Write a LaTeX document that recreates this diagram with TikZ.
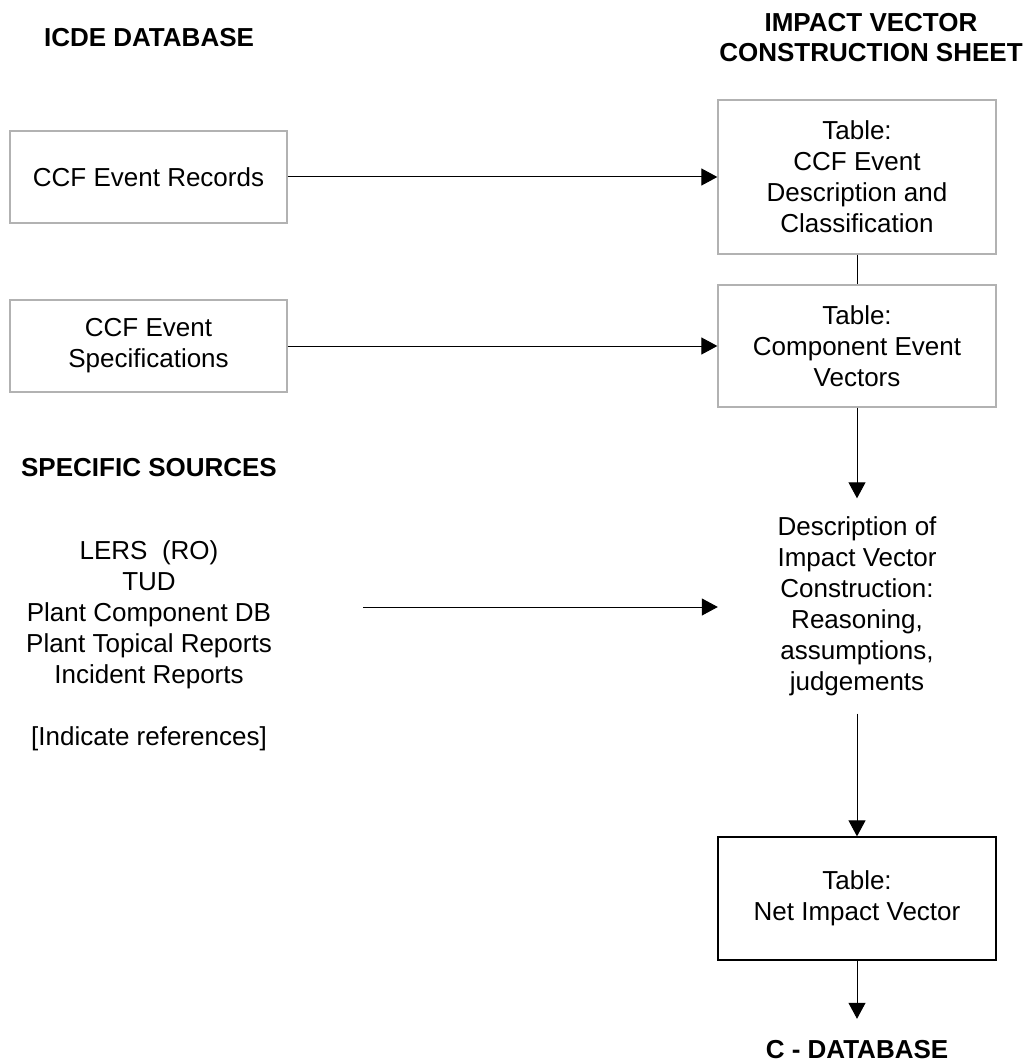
\documentclass[tikz,border=0pt]{standalone}
\usepackage{fontspec}
\setmainfont{Liberation Sans}
\usetikzlibrary{arrows.meta}
\begin{document}
\begin{tikzpicture}[x=1pt,y=-1pt,
  txt/.style={align=center,inner sep=0pt,font=\fontsize{26}{31}\selectfont},
  head/.style={align=center,inner sep=0pt,font=\fontsize{26}{30}\selectfont\bfseries},
  graybox/.style={txt,draw=black!30,line width=1.3pt,minimum width=277pt},
  blackbox/.style={txt,draw=black,line width=1.3pt,minimum width=278pt},
  arr/.style={draw=black,line width=1pt,-{Triangle[length=16pt,width=17pt]}},
  plain/.style={draw=black,line width=1pt}]
\useasboundingbox[fill=white] (0,0) rectangle (1026,1064);

% headers
\node[head] (icde) at (149,38) {ICDE DATABASE};
\node[head] (ivcs) at (871,38) {IMPACT VECTOR\\CONSTRUCTION SHEET};
\node[head] (spec) at (149,468) {SPECIFIC SOURCES};

% left boxes
\node[graybox,minimum height=92pt] (rec) at (148.5,177) {CCF Event Records};
\node[graybox,minimum height=92pt] (evspec) at (148.5,346) {CCF Event\\Specifications};

% left list
\node[txt] (src) at (149,646) {LERS~~(RO)\\TUD\\Plant Component DB\\Plant Topical Reports\\Incident Reports\\[31pt]{[}Indicate references{]}};
\coordinate (srcout) at (363,607);

% right column
\node[graybox,minimum width=278pt,minimum height=154pt] (tabA) at (857,177) {Table:\\CCF Event\\Description and\\Classification};
\node[graybox,minimum width=278pt,minimum height=122pt] (tabB) at (857,346) {Table:\\Component Event\\Vectors};
\node[txt,minimum width=278pt,minimum height=215pt] (desc) at (857,606) {Description of\\Impact Vector\\Construction:\\Reasoning,\\assumptions,\\judgements};
\node[blackbox,minimum height=123pt] (tabC) at (857,898.5) {Table:\\Net Impact Vector};
\node[head,minimum height=62pt] (cdb) at (857,1050) {C - DATABASE};

% connectors
\draw[arr] (rec.east) -- (rec.east -| tabA.west);
\draw[arr] (evspec.east) -- (evspec.east -| tabB.west);
\draw[plain] (tabA.south) -- (tabB.north);
\draw[arr] (tabB.south) -- (desc.north);
\draw[arr] (srcout) -- (srcout -| desc.west);
\draw[arr] (desc.south) -- (tabC.north);
\draw[arr] (tabC.south) -- (cdb.north);
\end{tikzpicture}
\end{document}
